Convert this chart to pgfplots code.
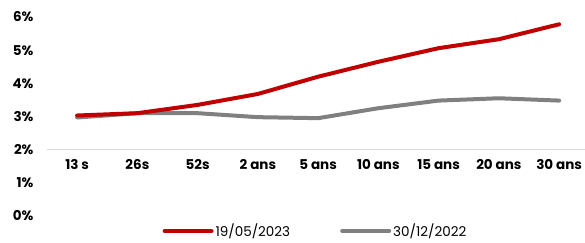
\documentclass[border=0pt]{standalone}
\usepackage{fontspec}
\setmainfont{Poppins}
\usepackage{pgfplots}
\pgfplotsset{compat=1.18}
\definecolor{cred}{HTML}{C00000}
\definecolor{cgray}{HTML}{808080}
\definecolor{caxis}{HTML}{D9D9D9}
\begin{document}
\begin{tikzpicture}[x=1pt,y=1pt]
\useasboundingbox (0,0) rectangle (585,242);
\begin{axis}[
  at={(47pt,26pt)}, anchor=south west,
  scale only axis, width=538pt, height=199pt,
  xmin=-0.5, xmax=8.43, ymin=0, ymax=6,
  axis line style={draw=none}, major tick length=0pt,
  ytick={0,1,...,6},
  yticklabel={\pgfmathprintnumber{\tick}\%},
  xtick={0,...,8},
  xticklabels={13 s,26s,52s,2 ans,5 ans,10 ans,15 ans,20 ans,30 ans},
  tick label style={font=\bfseries\fontsize{13.5}{15}\selectfont},
  /pgf/number format/assume math mode=true,
  yticklabel style={anchor=east, xshift=-10pt},
  xticklabel style={anchor=center, yshift=51pt},
  clip=false,
  reverse legend,
  legend columns=2,
  legend style={at={(axis description cs:0.499,-0.075)}, anchor=center, draw=none, fill=none,
    font=\fontsize{13.5}{15}\selectfont,
    /tikz/every even column/.append style={column sep=48pt}},
  legend image code/.code={\draw[#1] (0pt,0pt) -- (47pt,0pt);},
]
\draw[caxis, line width=1.2pt] (axis cs:-0.5,2) -- (axis cs:8.43,2);
\addplot[cgray, line width=4pt, line cap=round, line join=round] coordinates {
(0,2.97) (1,3.10) (2,3.10) (3,2.98) (4,2.95) (5,3.25) (6,3.48) (7,3.55) (8,3.48)};
\addlegendentry{30/12/2022}
\addplot[cred, line width=4pt, line cap=round, line join=round] coordinates {
(0,3.03) (1,3.10) (2,3.35) (3,3.68) (4,4.20) (5,4.65) (6,5.06) (7,5.33) (8,5.78)};
\addlegendentry{19/05/2023}
\end{axis}
\end{tikzpicture}
\end{document}
